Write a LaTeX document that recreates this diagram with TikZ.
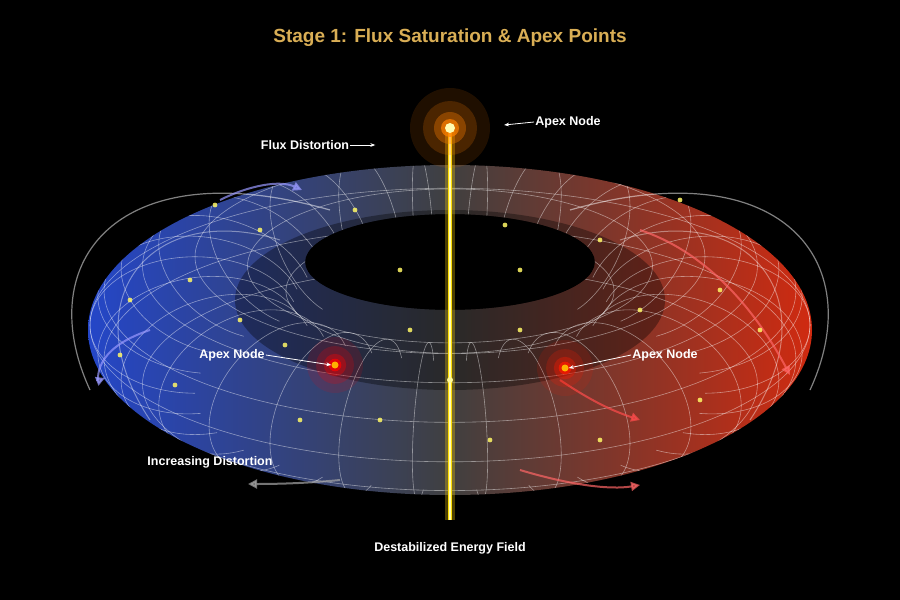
\documentclass[tikz,border=0pt]{standalone}
\usepackage{fontspec}
\setmainfont{Liberation Sans}
\usetikzlibrary{positioning,arrows.meta}
\definecolor{gold}{HTML}{D9AE55}
\definecolor{fluxblue}{HTML}{2446C8}
\definecolor{fluxred}{HTML}{D02A10}
\tikzset{
  lbl/.style={text=white,font=\bfseries\fontsize{12.5}{14}\selectfont,inner sep=1pt},
  ptr/.style={white,thick,-{Stealth[length=5pt]}},
  flow/.style={line width=2pt,opacity=0.7,-{Triangle[length=9pt,width=9pt]}},
  mesh/.style={white,opacity=0.45,line width=0.6pt},
  glow/.style={circle,fill=#1,inner sep=0pt}
}
\begin{document}
\begin{tikzpicture}[x=1pt,y=-1pt]
\fill[black] (0,0) rectangle (900,600);
\useasboundingbox (0,0) rectangle (900,600);
% torus body
\shade[even odd rule,left color=fluxblue,right color=fluxred,middle color=black!75]
  (450,330) ellipse [x radius=362,y radius=165] (450,262) ellipse [x radius=145,y radius=48];
\begin{scope}[even odd rule]
  \clip (450,330) ellipse [x radius=362,y radius=165] (450,262) ellipse [x radius=145,y radius=48];
  \fill[black,opacity=0.35] (450,300) ellipse [x radius=215,y radius=90];
  % rings of constant v
  \foreach \v in {-60,-30,0,30,60,90,120,150} {
    \draw[mesh,domain=0:360,samples=90,smooth]
      plot ({450+(255+105*cos(\v))*cos(\x)},{325+0.38*(255+105*cos(\v))*sin(\x)-0.65*105*sin(\v)});
  }
  % meridians
  \foreach \u in {0,12,...,348} {
    \draw[mesh,domain=-90:160,samples=40,smooth]
      plot ({450+(255+105*cos(\x))*cos(\u)},{325+0.38*(255+105*cos(\x))*sin(\u)-0.65*105*sin(\x)});
  }
\end{scope}
% field loops
\foreach \s in {1,-1} {
  \draw[white,opacity=0.5,line width=1.2pt] (450-\s*120,210) .. controls (450-\s*330,150) and (450-\s*420,260) .. (450-\s*360,390);
  \draw[white,opacity=0.4,line width=1pt] (450-\s*170,240) .. controls (450-\s*300,200) and (450-\s*380,300) .. (450-\s*300,420);
}
\draw[flow,blue!40!white] (220,200) .. controls (250,185) and (280,180) .. (302,190);
\draw[flow,blue!40!white] (150,330) .. controls (90,350) and (100,380) .. (105,378);
\draw[flow,red!60!white] (640,230) .. controls (700,250) and (750,300) .. (790,375);
\draw[flow,red!60!white] (520,470) .. controls (570,485) and (610,490) .. (640,485);
\draw[flow,gray!70] (340,480) .. controls (310,483) and (280,484) .. (248,484);
\draw[flow,red!70] (560,380) .. controls (590,400) and (610,410) .. (640,420);
% central beam
\draw[yellow!70!orange,line width=10pt,opacity=0.3] (450,130) -- (450,520);
\draw[yellow!80!orange,line width=4.5pt] (450,130) -- (450,520);
\draw[yellow!30,line width=1.2pt] (450,130) -- (450,520);
% glows
\foreach \r/\o in {40/0.12,27/0.2,16/0.35,9/0.7} {
  \fill[orange,opacity=\o] (450,128) circle (\r);
  \fill[red,opacity=\o] (335,365) circle (0.7*\r);
  \fill[red!80!orange,opacity=\o] (565,368) circle (0.7*\r);
}
\node[glow=yellow!30,minimum size=10pt] (apexTop) at (450,128) {};
\node[glow=orange!60!yellow,minimum size=7pt] (apexLeft) at (335,365) {};
\node[glow=orange!60!yellow,minimum size=7pt] (apexRight) at (565,368) {};
\node[glow=yellow!40,minimum size=6pt] (core) at (450,380) {};
% sparks
\foreach \px/\py in {215/205,355/210,190/280,130/300,240/320,285/345,175/385,120/355,380/420,410/330,520/330,520/270,600/240,680/200,720/290,640/310,760/330,700/400,600/440,490/440,300/420,400/270,505/225,260/230} {
  \fill[yellow!60!white,opacity=0.85] (\px,\py) circle (2.4);
}
% labels
\node[text=gold,font=\bfseries\fontsize{19}{20}\selectfont] (title) at (450,38) {Stage 1: Flux Saturation \& Apex Points};
\node[lbl] (lblFlux) at (305,145) {Flux Distortion};
\node[lbl] (lblApexTop) at (568,122) {Apex Node};
\node[lbl] (lblApexLeft) at (232,355) {Apex Node};
\node[lbl] (lblApexRight) at (665,355) {Apex Node};
\node[lbl] (lblIncr) at (210,462) {Increasing Distortion};
\node[lbl] (lblField) at (450,548) {Destabilized Energy Field};
\draw[ptr] (lblFlux.east) -- ++(25,0);
\draw[ptr] (lblApexTop.west) -- ++(-30,3);
\draw[ptr] (lblApexLeft.east) -- (apexLeft.west);
\draw[ptr] (lblApexRight.west) -- (apexRight.east);
\end{tikzpicture}
\end{document}
